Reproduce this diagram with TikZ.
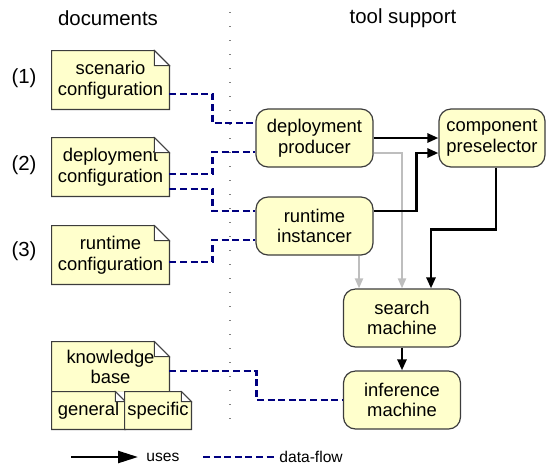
\documentclass[tikz,border=0pt]{standalone}
\usepackage{fontspec}
\setmainfont{Liberation Sans}
\usetikzlibrary{arrows.meta}
\definecolor{notefill}{HTML}{FFFFCC}
\definecolor{noteline}{HTML}{3C3C3C}
\definecolor{flowblue}{HTML}{000080}
\definecolor{usesgray}{HTML}{BEBEBE}
\newcommand{\dogear}[2][7.5pt]{%
\fill[white] ([xshift=-#1]#2.north east) -- (#2.north east) -- ([yshift=-#1]#2.north east) -- cycle;
\draw[noteline, line width=0.6pt] (#2.north west) -- ([xshift=-#1]#2.north east)
  -- ([yshift=-#1]#2.north east) -- (#2.south east) -- (#2.south west) -- cycle;
\filldraw[fill=white, draw=noteline, line width=0.5pt] ([xshift=-#1]#2.north east)
  |- ([yshift=-#1]#2.north east) -- cycle;
}
\begin{document}
\begin{tikzpicture}[
x=0.5pt, y=-0.5pt,
doc/.style={rectangle, fill=notefill, inner sep=0pt, align=center,
  font=\fontsize{9.2}{10.3}\selectfont, minimum width=58.5pt, minimum height=29pt},
tool/.style={rectangle, rounded corners=6pt, draw=noteline, line width=0.6pt,
  fill=notefill, inner sep=0pt, align=center,
  font=\fontsize{9.2}{10.3}\selectfont, minimum width=58.5pt, minimum height=29pt},
head/.style={font=\fontsize{10.2}{12}\selectfont, inner sep=0pt},
legend/.style={font=\fontsize{7.8}{9}\selectfont, inner sep=0pt},
uses/.style={line width=1.3pt, -{Triangle[length=5.5pt,width=4.5pt]}},
usesgr/.style={usesgray, line width=1pt, -{Triangle[length=5pt,width=4pt]}},
flow/.style={flowblue, line width=1.3pt, dash pattern=on 3.5pt off 1.8pt},
divider/.style={gray, line width=0.6pt, dash pattern=on 0.6pt off 6.4pt},
]
\useasboundingbox (0,0) rectangle (546,468);

% column heads
\node[head] (docs) at (108,18) {documents};
\node[head] (tools) at (403,18) {tool support};
\coordinate (divtop) at (230,12);
\coordinate (divbot) at (230,426);
\draw[divider] (divtop) -- (divbot);

% documents
\node[head] (num1) at (24,78) {(1)};
\node[head] (num2) at (24,165) {(2)};
\node[head] (num3) at (24,251) {(3)};
\node[doc] (scen) at (110.5,80) {scenario\\configuration};
\dogear{scen}
\node[doc] (depconf) at (110.5,167) {deployment\\configuration};
\dogear{depconf}
\node[doc] (runconf) at (110.5,255) {runtime\\configuration};
\dogear{runconf}
\node[doc, minimum height=25pt] (kbase) at (110.5,367) {knowledge\\base};
\dogear{kbase}
\node[doc, minimum width=36.5pt, minimum height=18.5pt] (general) at (88.5,410.5) {\raisebox{-1.5pt}{general}};
\dogear[5pt]{general}
\node[doc, minimum width=33pt, minimum height=18.5pt] (specific) at (158,410.5) {\raisebox{-1.5pt}{specific}};
\dogear[5pt]{specific}

% tools
\node[tool] (deplprod) at (314.5,138) {deployment\\producer};
\node[tool] (runinst) at (314.5,226) {runtime\\instancer};
\node[tool, minimum width=53pt] (compsel) at (492,138) {component\\preselector};
\node[tool] (search) at (402,318) {search\\machine};
\node[tool] (infer) at (402,400) {inference\\machine};

% uses
\draw[usesgr] ([yshift=-7.5pt]deplprod.east) -| (search.north);
\draw[usesgr] ([xshift=22.25pt]runinst.south) -- ([xshift=22.25pt]runinst.south |- search.north);
\draw[uses] (deplprod) -- (compsel);
\draw[uses] ([yshift=7.5pt]runinst.east) -- ++(43,0) |- ([yshift=-7.5pt]compsel.west);
\draw[uses] ([xshift=2pt]compsel.south) -- ++(0,62) -| ([xshift=14.5pt]search.north);
\draw[uses] (search.south) -- (search.south |- infer.north);

% data-flow
\draw[flow] ([yshift=-7pt]scen.east) -- ++(43,0) |- ([yshift=7.5pt]deplprod.west);
\draw[flow] ([yshift=-3.5pt]depconf.east) -- ++(43,0) |- ([yshift=-7pt]deplprod.west);
\draw[flow] ([yshift=-11pt]depconf.east) -- ++(43,0) |- ([yshift=7.5pt]runinst.west);
\draw[flow] ([yshift=-3.5pt]runconf.east) -- ++(43,0) |- ([yshift=-7pt]runinst.west);
\draw[flow] ([yshift=-2pt]kbase.east) -- ++(87,0) |- (infer.west);

% legend
\coordinate (legA) at (71,457);
\coordinate (legB) at (138,457);
\draw[uses, line width=1.2pt, -{Triangle[length=10pt,width=6pt]}] (legA) -- (legB);
\node[legend, anchor=west] (legUses) at (146,457) {uses};
\coordinate (legC) at (203,457);
\coordinate (legD) at (276,457);
\draw[flow] (legC) -- (legD);
\node[legend, anchor=west] (legFlow) at (279,457) {data-flow};
\end{tikzpicture}
\end{document}
